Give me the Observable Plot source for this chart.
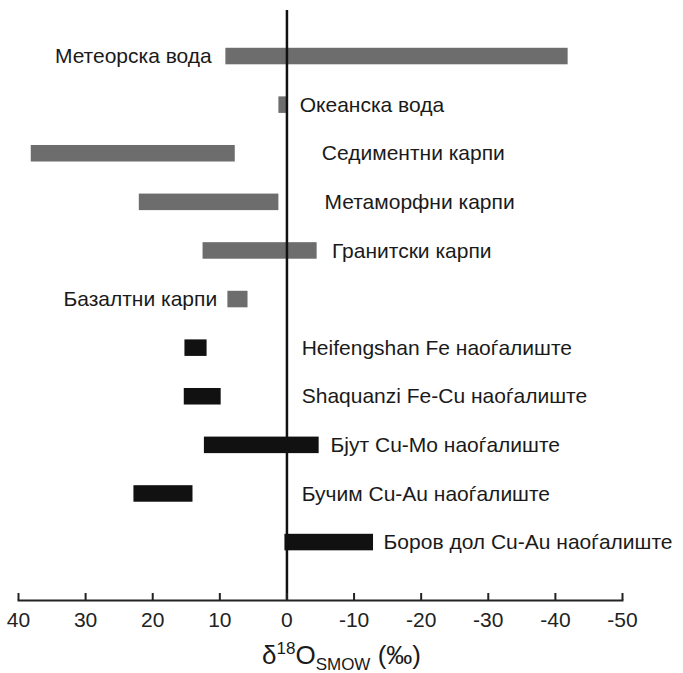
<!DOCTYPE html>
<html><head><meta charset="utf-8">
<script src="https://cdn.jsdelivr.net/npm/d3@7"></script>
<script src="https://cdn.jsdelivr.net/npm/@observablehq/plot@0.6"></script>
<style>body{margin:0;background:#fff}</style>
</head><body><div id="chart"></div>
<script>
// ---- data ----
const names = [
  "Метеорска вода", "Океанска вода", "Седиментни карпи", "Метаморфни карпи",
  "Гранитски карпи", "Базалтни карпи", "Heifengshan Fe наоѓалиште",
  "Shaquanzi Fe-Cu наоѓалиште", "Бјут Cu-Mo наоѓалиште",
  "Бучим Cu-Au наоѓалиште", "Боров дол Cu-Au наоѓалиште"
];
const rangeFrom = [9.1, 1.2, 38.1, 22.0, 12.5, 8.8, 15.2, 15.3, 12.3, 22.8, 0.3];
const rangeTo   = [-41.9, 0.0, 7.7, 1.2, -4.5, 5.8, 11.9, 9.8, -4.8, 14.0, -12.9];
const groups = ["reservoir", "reservoir", "reservoir", "reservoir", "reservoir", "reservoir",
  "deposit", "deposit", "deposit", "deposit", "deposit"];
const xTicks = [40, 30, 20, 10, 0, -10, -20, -30, -40, -50];

// ---- label placement (annotation, in ‰ units) ----
const labelSide = ["left", "right", "right", "right", "right", "left", "right", "right", "right", "right", "right"];
const labelAt = [11.2, -1.9, -5.2, -5.6, -6.7, 10.4, -2.2, -2.2, -6.5, -2.2, -14.4];

const idx = names.map((_, i) => i);
const font = "'Liberation Sans', Arial, sans-serif";

const plot = Plot.plot({
  width: 683,
  height: 673,
  marginLeft: 18,
  marginRight: 61,
  marginTop: 10,
  marginBottom: 73,
  style: {fontFamily: font, fontSize: "21px", color: "#1a1a1a", background: "#fff"},
  x: {domain: [40, -50], axis: null},
  y: {type: "band", domain: names, range: [15.7, 582.4], paddingInner: 0.66, paddingOuter: 0.66, round: false, axis: null},
  color: {domain: ["reservoir", "deposit"], range: ["#6d6d6d", "#111111"]},
  marks: [
    Plot.barX(idx, {x1: i => rangeFrom[i], x2: i => rangeTo[i], y: i => names[i], fill: i => groups[i]}),
    Plot.ruleX([0], {stroke: "#111", strokeWidth: 2.5}),
    Plot.frame({anchor: "bottom", stroke: "#222", strokeWidth: 2}),
    Plot.axisX(xTicks, {tickSize: -7, tickFormat: () => "", stroke: "#222", strokeWidth: 2, label: null}),
    Plot.axisX(xTicks, {tickSize: 0, tickPadding: 12, fontSize: 21, fill: "#222", label: null, tickFormat: d => String(d)}),
    Plot.text(idx.filter(i => labelSide[i] === "right"), {
      x: i => labelAt[i], y: i => names[i], text: i => names[i],
      textAnchor: "start", fontSize: 21, fill: "#1a1a1a"
    }),
    Plot.text(idx.filter(i => labelSide[i] === "left"), {
      x: i => labelAt[i], y: i => names[i], text: i => names[i],
      textAnchor: "end", fontSize: 21, fill: "#1a1a1a"
    })
  ]
});

// axis title with super/subscripts
const svg = d3.select(plot);
const t = svg.append("text")
  .attr("x", 262).attr("y", 664)
  .attr("text-anchor", "start")
  .attr("font-family", font).attr("font-size", 26).attr("fill", "#1a1a1a");
t.append("tspan").text("δ");
t.append("tspan").attr("font-size", 17).attr("dy", -10).text("18");
t.append("tspan").attr("dy", 10).text("O");
t.append("tspan").attr("font-size", 17).attr("dy", 6).text("SMOW");
t.append("tspan").attr("dy", -6).text(" (‰)");

document.getElementById("chart").appendChild(plot);
</script>
</body></html>
